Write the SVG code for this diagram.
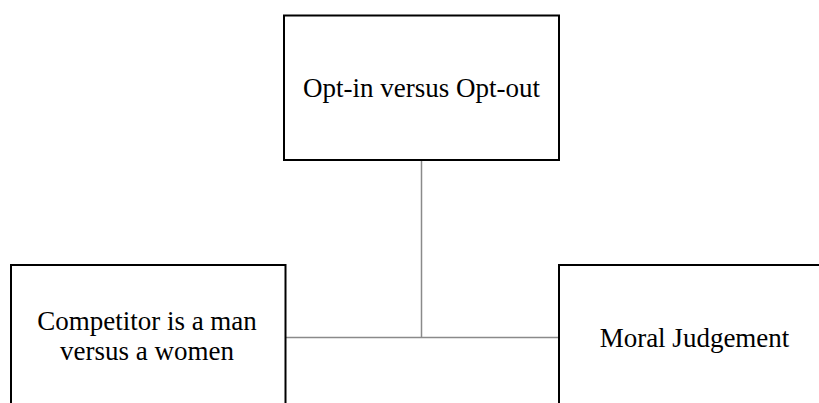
<svg xmlns="http://www.w3.org/2000/svg" width="819" height="403" viewBox="0 0 819 403">
  <style>
    .box { fill: #ffffff; stroke: #000000; stroke-width: 2; }
    .label { font-family: "Liberation Serif", "Times New Roman", serif; font-size: 27px; fill: #000000; text-anchor: middle; }
    .link { fill: none; stroke: #8a8a8a; stroke-width: 1.5; }
  </style>
  <rect width="819" height="403" fill="#ffffff"/>
  <g id="connectors">
    <line class="link" x1="421.5" y1="160" x2="421.5" y2="337.5"/>
    <line class="link" x1="285" y1="337.5" x2="559" y2="337.5"/>
  </g>
  <g id="node-opt">
    <rect class="box" x="284" y="15.5" width="275" height="144.5"/>
    <text class="label" x="421.5" y="97">Opt-in versus Opt-out</text>
  </g>
  <g id="node-competitor">
    <rect class="box" x="11" y="265" width="274.5" height="160"/>
    <text class="label" x="147" y="329.5">Competitor is a man</text>
    <text class="label" x="147" y="359.5">versus a women</text>
  </g>
  <g id="node-moral">
    <rect class="box" x="559" y="265" width="280" height="160"/>
    <text class="label" x="694.5" y="346.5">Moral Judgement</text>
  </g>
</svg>
